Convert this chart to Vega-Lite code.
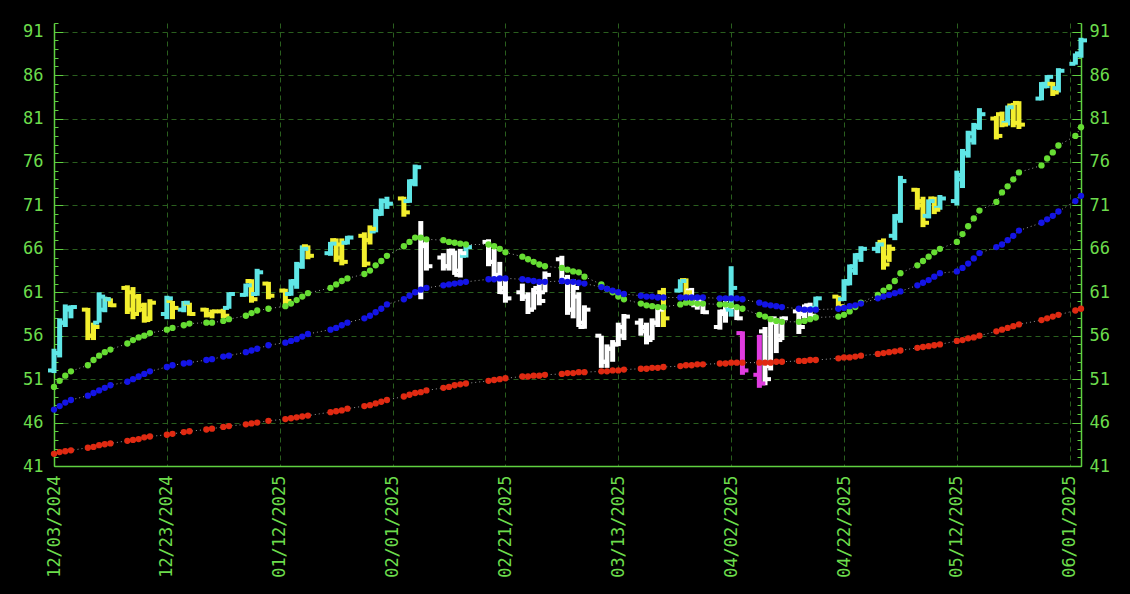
{
  "$schema": "https://vega.github.io/schema/vega-lite/v6.json",
  "width": 1027,
  "height": 443,
  "autosize": "none",
  "padding": {"left": 54, "top": 23, "right": 49, "bottom": 128},
  "background": "#000000",
  "config": {
    "view": {"stroke": null},
    "axis": {
      "labelFont": "DejaVu Sans Mono",
      "labelFontSize": 17,
      "labelColor": "#6cdc4c",
      "domainColor": "#5fd040",
      "domainWidth": 1.5,
      "tickColor": "#5fd040",
      "gridColor": "#2a5e1e",
      "gridDash": [5, 4],
      "gridWidth": 1,
      "title": null
    }
  },
  "data": {"values": [
    {"d":"2024-12-03","o":52,"h":54.5,"l":51.7,"c":54,"k":"up","g":50.1,"b":47.5,"r":42.4},
    {"d":"2024-12-04","o":54,"h":58,"l":53.5,"c":57.5,"k":"up","g":50.8,"b":47.9,"r":42.6},
    {"d":"2024-12-05","o":57.5,"h":59.6,"l":57,"c":59.2,"k":"up","g":51.4,"b":48.3,"r":42.7},
    {"d":"2024-12-06","o":59,"h":59.5,"l":58,"c":59.3,"k":"up","g":51.9,"b":48.6,"r":42.8},
    {"d":"2024-12-09","o":59,"h":59.2,"l":55.5,"c":56,"k":"pullback","g":52.6,"b":49.1,"r":43.1},
    {"d":"2024-12-10","o":56,"h":57.5,"l":55.5,"c":57,"k":"pullback","g":53.2,"b":49.4,"r":43.2},
    {"d":"2024-12-11","o":57.5,"h":61,"l":57.5,"c":60.5,"k":"up","g":53.7,"b":49.7,"r":43.4},
    {"d":"2024-12-12","o":59,"h":60.5,"l":58.7,"c":60.2,"k":"up","g":54.1,"b":50.0,"r":43.5},
    {"d":"2024-12-13","o":60.2,"h":60.3,"l":59.3,"c":59.5,"k":"pullback","g":54.4,"b":50.3,"r":43.6},
    {"d":"2024-12-16","o":61.5,"h":61.8,"l":58.5,"c":59,"k":"pullback","g":55.1,"b":50.7,"r":43.9},
    {"d":"2024-12-17","o":61,"h":61.6,"l":57.9,"c":58.5,"k":"pullback","g":55.5,"b":51.0,"r":44.0},
    {"d":"2024-12-18","o":60.5,"h":60.8,"l":58.7,"c":59,"k":"pullback","g":55.8,"b":51.3,"r":44.1},
    {"d":"2024-12-19","o":59.5,"h":59.8,"l":57.5,"c":57.8,"k":"pullback","g":56.0,"b":51.6,"r":44.3},
    {"d":"2024-12-20","o":58,"h":60.2,"l":57.7,"c":59.8,"k":"pullback","g":56.3,"b":51.9,"r":44.4},
    {"d":"2024-12-23","o":58.5,"h":60.6,"l":57.9,"c":60.3,"k":"up","g":56.7,"b":52.4,"r":44.6},
    {"d":"2024-12-24","o":60,"h":60,"l":57.9,"c":59.2,"k":"pullback","g":56.9,"b":52.6,"r":44.7},
    {"d":"2024-12-26","o":59,"h":60,"l":58.7,"c":59.8,"k":"up","g":57.2,"b":52.8,"r":44.9},
    {"d":"2024-12-27","o":59.7,"h":59.8,"l":58.3,"c":58.5,"k":"pullback","g":57.4,"b":52.9,"r":45.0},
    {"d":"2024-12-30","o":59,"h":59.2,"l":58.1,"c":58.4,"k":"pullback","g":57.5,"b":53.2,"r":45.2},
    {"d":"2024-12-31","o":58.5,"h":59,"l":58,"c":58.8,"k":"pullback","g":57.5,"b":53.3,"r":45.3},
    {"d":"2025-01-02","o":58.8,"h":59.1,"l":58,"c":58.3,"k":"pullback","g":57.7,"b":53.6,"r":45.5},
    {"d":"2025-01-03","o":59.2,"h":61,"l":59.1,"c":60.8,"k":"up","g":57.9,"b":53.7,"r":45.6},
    {"d":"2025-01-06","o":60.7,"h":62,"l":60.5,"c":61.8,"k":"up","g":58.3,"b":54.1,"r":45.8},
    {"d":"2025-01-07","o":62.3,"h":62.5,"l":59.8,"c":60.2,"k":"pullback","g":58.6,"b":54.3,"r":45.9},
    {"d":"2025-01-08","o":60.8,"h":63.7,"l":60.6,"c":63.3,"k":"up","g":58.9,"b":54.5,"r":46.0},
    {"d":"2025-01-10","o":62,"h":62.2,"l":60.2,"c":60.6,"k":"pullback","g":59.1,"b":54.9,"r":46.2},
    {"d":"2025-01-13","o":61.2,"h":61.4,"l":59.5,"c":60,"k":"pullback","g":59.4,"b":55.2,"r":46.4},
    {"d":"2025-01-14","o":60.8,"h":62.5,"l":60.6,"c":62.3,"k":"up","g":59.7,"b":55.4,"r":46.5},
    {"d":"2025-01-15","o":62,"h":64.5,"l":61.4,"c":64.2,"k":"up","g":60.1,"b":55.6,"r":46.6},
    {"d":"2025-01-16","o":64,"h":66.4,"l":63.7,"c":66,"k":"up","g":60.5,"b":55.9,"r":46.7},
    {"d":"2025-01-17","o":66.3,"h":66.4,"l":64.8,"c":65.2,"k":"pullback","g":60.9,"b":56.2,"r":46.8},
    {"d":"2025-01-21","o":65.5,"h":66.8,"l":65.2,"c":66.6,"k":"up","g":61.5,"b":56.7,"r":47.2},
    {"d":"2025-01-22","o":67,"h":67.2,"l":64.5,"c":65,"k":"pullback","g":61.9,"b":56.9,"r":47.3},
    {"d":"2025-01-23","o":66.5,"h":67.2,"l":64.1,"c":64.5,"k":"pullback","g":62.3,"b":57.2,"r":47.4},
    {"d":"2025-01-24","o":66.7,"h":67.5,"l":66.5,"c":67.3,"k":"up","g":62.6,"b":57.5,"r":47.6},
    {"d":"2025-01-27","o":67.5,"h":67.9,"l":63.9,"c":64.3,"k":"pullback","g":63.1,"b":58.0,"r":47.9},
    {"d":"2025-01-28","o":67,"h":68.7,"l":66.5,"c":68.3,"k":"pullback","g":63.5,"b":58.3,"r":48.0},
    {"d":"2025-01-29","o":68,"h":70.6,"l":67.9,"c":70.3,"k":"up","g":64.1,"b":58.7,"r":48.2},
    {"d":"2025-01-30","o":70,"h":71.8,"l":69.8,"c":71.5,"k":"up","g":64.6,"b":59.1,"r":48.4},
    {"d":"2025-01-31","o":71.5,"h":72,"l":70.6,"c":71.2,"k":"up","g":65.2,"b":59.6,"r":48.6},
    {"d":"2025-02-03","o":71.8,"h":72,"l":69.7,"c":70.2,"k":"pullback","g":66.3,"b":60.2,"r":49.0},
    {"d":"2025-02-04","o":71.5,"h":74,"l":71.3,"c":73.8,"k":"up","g":66.8,"b":60.6,"r":49.2},
    {"d":"2025-02-05","o":73.5,"h":75.7,"l":73.2,"c":75.4,"k":"up","g":67.3,"b":61.0,"r":49.4},
    {"d":"2025-02-06","o":61,"h":69.2,"l":60.2,"c":66.3,"k":"neutral","g":67.3,"b":61.3,"r":49.5},
    {"d":"2025-02-07","o":66.5,"h":67,"l":63.5,"c":64,"k":"neutral","g":67.1,"b":61.5,"r":49.7},
    {"d":"2025-02-10","o":65,"h":65.5,"l":63.5,"c":64,"k":"neutral","g":67.0,"b":61.8,"r":50.0},
    {"d":"2025-02-11","o":64,"h":66,"l":63.5,"c":65.8,"k":"neutral","g":66.8,"b":61.9,"r":50.1},
    {"d":"2025-02-12","o":65.5,"h":65.8,"l":63,"c":63.5,"k":"neutral","g":66.7,"b":62.0,"r":50.3},
    {"d":"2025-02-13","o":63,"h":66,"l":62.7,"c":65.5,"k":"neutral","g":66.6,"b":62.1,"r":50.4},
    {"d":"2025-02-14","o":65.2,"h":66.4,"l":65,"c":66.2,"k":"up","g":66.5,"b":62.2,"r":50.5},
    {"d":"2025-02-18","o":66.8,"h":67.1,"l":64,"c":64.5,"k":"neutral","g":66.5,"b":62.5,"r":50.8},
    {"d":"2025-02-19","o":64.5,"h":66,"l":62.7,"c":63,"k":"neutral","g":66.3,"b":62.5,"r":50.9},
    {"d":"2025-02-20","o":63,"h":64.5,"l":60.8,"c":61,"k":"neutral","g":66.0,"b":62.6,"r":51.0},
    {"d":"2025-02-21","o":61.5,"h":62.5,"l":59.8,"c":60.3,"k":"neutral","g":65.6,"b":62.6,"r":51.1},
    {"d":"2025-02-24","o":61,"h":62,"l":60,"c":60.5,"k":"neutral","g":65.1,"b":62.5,"r":51.3},
    {"d":"2025-02-25","o":60.5,"h":61,"l":58.5,"c":59,"k":"neutral","g":64.8,"b":62.4,"r":51.3},
    {"d":"2025-02-26","o":59,"h":61.5,"l":59,"c":61,"k":"neutral","g":64.5,"b":62.3,"r":51.4},
    {"d":"2025-02-27","o":61.5,"h":62,"l":59.5,"c":60,"k":"neutral","g":64.2,"b":62.2,"r":51.4},
    {"d":"2025-02-28","o":61,"h":63.4,"l":61,"c":63,"k":"neutral","g":64.0,"b":62.2,"r":51.5},
    {"d":"2025-03-03","o":64.8,"h":65.2,"l":62,"c":62.5,"k":"neutral","g":63.8,"b":62.3,"r":51.6},
    {"d":"2025-03-04","o":62.5,"h":63,"l":58.4,"c":59,"k":"neutral","g":63.6,"b":62.2,"r":51.7},
    {"d":"2025-03-05","o":59,"h":62.5,"l":58,"c":61.5,"k":"neutral","g":63.4,"b":62.2,"r":51.7},
    {"d":"2025-03-06","o":60.5,"h":61,"l":57,"c":57.5,"k":"neutral","g":63.3,"b":62.1,"r":51.8},
    {"d":"2025-03-07","o":57,"h":59.5,"l":56.8,"c":59,"k":"neutral","g":62.8,"b":62.0,"r":51.8},
    {"d":"2025-03-10","o":56,"h":56,"l":52.3,"c":53,"k":"neutral","g":61.9,"b":61.6,"r":51.9},
    {"d":"2025-03-11","o":53,"h":55,"l":52.3,"c":54.5,"k":"neutral","g":61.4,"b":61.4,"r":51.9},
    {"d":"2025-03-12","o":54.5,"h":55.5,"l":53,"c":55,"k":"neutral","g":61.0,"b":61.2,"r":52.0},
    {"d":"2025-03-13","o":55,"h":57.5,"l":54.8,"c":57,"k":"neutral","g":60.5,"b":61.0,"r":52.0},
    {"d":"2025-03-14","o":56,"h":58.5,"l":55.5,"c":58.2,"k":"neutral","g":60.2,"b":60.8,"r":52.1},
    {"d":"2025-03-17","o":57.5,"h":58,"l":56,"c":56.5,"k":"neutral","g":59.7,"b":60.6,"r":52.2},
    {"d":"2025-03-18","o":57,"h":57.5,"l":55,"c":55.5,"k":"neutral","g":59.5,"b":60.5,"r":52.2},
    {"d":"2025-03-19","o":55.8,"h":58,"l":55.5,"c":57.5,"k":"neutral","g":59.4,"b":60.5,"r":52.3},
    {"d":"2025-03-20","o":57.5,"h":59.5,"l":57,"c":59,"k":"neutral","g":59.3,"b":60.4,"r":52.3},
    {"d":"2025-03-21","o":61,"h":61.5,"l":57,"c":58,"k":"pullback","g":59.3,"b":60.4,"r":52.4},
    {"d":"2025-03-24","o":61.2,"h":62.5,"l":61,"c":62.3,"k":"up","g":59.6,"b":60.4,"r":52.5},
    {"d":"2025-03-25","o":62.4,"h":62.6,"l":60.5,"c":61,"k":"pullback","g":59.8,"b":60.4,"r":52.6},
    {"d":"2025-03-26","o":61.2,"h":61.5,"l":59.5,"c":59.8,"k":"neutral","g":59.8,"b":60.4,"r":52.6},
    {"d":"2025-03-27","o":59.5,"h":60.5,"l":59,"c":60,"k":"neutral","g":59.7,"b":60.4,"r":52.7},
    {"d":"2025-03-28","o":59.7,"h":59.8,"l":58.5,"c":58.7,"k":"neutral","g":59.7,"b":60.4,"r":52.7},
    {"d":"2025-03-31","o":57,"h":59,"l":56.7,"c":58.8,"k":"neutral","g":59.6,"b":60.3,"r":52.8},
    {"d":"2025-04-01","o":58.5,"h":60,"l":57.5,"c":59.5,"k":"neutral","g":59.6,"b":60.3,"r":52.8},
    {"d":"2025-04-02","o":59,"h":64,"l":58.2,"c":61.5,"k":"up","g":59.5,"b":60.3,"r":52.9},
    {"d":"2025-04-03","o":59.3,"h":59.5,"l":57.8,"c":58,"k":"neutral","g":59.3,"b":60.3,"r":52.9},
    {"d":"2025-04-04","o":56.3,"h":56.5,"l":51.5,"c":52,"k":"weak","g":59.1,"b":60.2,"r":52.9},
    {"d":"2025-04-07","o":51.5,"h":56.1,"l":50,"c":50.5,"k":"weak","g":58.4,"b":59.8,"r":52.9},
    {"d":"2025-04-08","o":56.5,"h":57,"l":50.3,"c":51,"k":"neutral","g":58.2,"b":59.6,"r":52.9},
    {"d":"2025-04-09","o":52.5,"h":58.2,"l":52,"c":58,"k":"neutral","g":57.9,"b":59.5,"r":52.9},
    {"d":"2025-04-10","o":57.5,"h":58,"l":54,"c":55.5,"k":"neutral","g":57.7,"b":59.4,"r":53.0},
    {"d":"2025-04-11","o":56,"h":58.2,"l":55.5,"c":58,"k":"neutral","g":57.6,"b":59.3,"r":53.0},
    {"d":"2025-04-14","o":58.8,"h":59.2,"l":56.2,"c":57,"k":"neutral","g":57.6,"b":59.1,"r":53.1},
    {"d":"2025-04-15","o":58.5,"h":59.6,"l":58,"c":59,"k":"neutral","g":57.7,"b":59.0,"r":53.1},
    {"d":"2025-04-16","o":59.5,"h":59.8,"l":58,"c":58.3,"k":"neutral","g":57.9,"b":59.0,"r":53.2},
    {"d":"2025-04-17","o":59.2,"h":60.5,"l":59,"c":60.3,"k":"up","g":58.1,"b":59.0,"r":53.2},
    {"d":"2025-04-21","o":60.5,"h":60.6,"l":59.1,"c":59.4,"k":"pullback","g":58.2,"b":59.1,"r":53.4},
    {"d":"2025-04-22","o":60.2,"h":62.5,"l":60,"c":62.3,"k":"up","g":58.4,"b":59.2,"r":53.5},
    {"d":"2025-04-23","o":62,"h":64.2,"l":61.8,"c":64,"k":"up","g":58.8,"b":59.4,"r":53.5},
    {"d":"2025-04-24","o":63.5,"h":65.5,"l":63,"c":65.3,"k":"up","g":59.3,"b":59.5,"r":53.6},
    {"d":"2025-04-25","o":65,"h":66.3,"l":64.5,"c":66,"k":"up","g":59.8,"b":59.7,"r":53.7},
    {"d":"2025-04-28","o":66,"h":66.8,"l":65.5,"c":66.5,"k":"up","g":60.7,"b":60.3,"r":53.9},
    {"d":"2025-04-29","o":66.8,"h":67.2,"l":63.6,"c":64.2,"k":"pullback","g":61.2,"b":60.5,"r":54.0},
    {"d":"2025-04-30","o":65,"h":66.5,"l":64.5,"c":66,"k":"pullback","g":61.6,"b":60.7,"r":54.1},
    {"d":"2025-05-01","o":67.5,"h":70,"l":67,"c":69.8,"k":"up","g":62.3,"b":60.9,"r":54.2},
    {"d":"2025-05-02","o":69.5,"h":74.4,"l":69,"c":73.8,"k":"up","g":63.2,"b":61.1,"r":54.3},
    {"d":"2025-05-05","o":72.8,"h":73,"l":70.5,"c":71,"k":"pullback","g":64.1,"b":61.8,"r":54.6},
    {"d":"2025-05-06","o":71.5,"h":72,"l":68.5,"c":69,"k":"pullback","g":64.6,"b":62.1,"r":54.7},
    {"d":"2025-05-07","o":69.8,"h":71.7,"l":69.5,"c":71.5,"k":"up","g":65.1,"b":62.4,"r":54.8},
    {"d":"2025-05-08","o":71.8,"h":72,"l":70,"c":70.5,"k":"pullback","g":65.6,"b":62.8,"r":54.9},
    {"d":"2025-05-09","o":70.7,"h":72.2,"l":70.5,"c":71.8,"k":"up","g":66.0,"b":63.2,"r":55.0},
    {"d":"2025-05-12","o":71.5,"h":75,"l":71,"c":74.5,"k":"up","g":66.8,"b":63.4,"r":55.4},
    {"d":"2025-05-13","o":74,"h":77.5,"l":73,"c":77,"k":"up","g":67.7,"b":63.8,"r":55.5},
    {"d":"2025-05-14","o":77,"h":79.6,"l":76.5,"c":79.3,"k":"up","g":68.6,"b":64.3,"r":55.7},
    {"d":"2025-05-15","o":78.5,"h":80.5,"l":78,"c":80.2,"k":"up","g":69.5,"b":64.9,"r":55.8},
    {"d":"2025-05-16","o":80,"h":82.2,"l":79.7,"c":81.5,"k":"up","g":70.4,"b":65.5,"r":56.0},
    {"d":"2025-05-19","o":81,"h":81.3,"l":78.6,"c":79,"k":"pullback","g":71.4,"b":66.2,"r":56.5},
    {"d":"2025-05-20","o":81.5,"h":81.8,"l":80,"c":80.3,"k":"pullback","g":72.5,"b":66.5,"r":56.7},
    {"d":"2025-05-21","o":80.5,"h":82.5,"l":80.2,"c":82.3,"k":"up","g":73.2,"b":67.0,"r":56.9},
    {"d":"2025-05-22","o":82.5,"h":82.8,"l":80,"c":80.5,"k":"pullback","g":74.0,"b":67.5,"r":57.1},
    {"d":"2025-05-23","o":82.8,"h":83,"l":79.8,"c":80.3,"k":"pullback","g":74.8,"b":68.1,"r":57.3},
    {"d":"2025-05-27","o":83.3,"h":85.2,"l":83.1,"c":85,"k":"up","g":75.6,"b":69.0,"r":57.8},
    {"d":"2025-05-28","o":84.7,"h":86,"l":84.5,"c":85.8,"k":"up","g":76.4,"b":69.4,"r":58.0},
    {"d":"2025-05-29","o":85,"h":85.2,"l":83.6,"c":84,"k":"pullback","g":77.1,"b":69.8,"r":58.2},
    {"d":"2025-05-30","o":84.5,"h":86.8,"l":84,"c":86.5,"k":"up","g":77.9,"b":70.3,"r":58.4},
    {"d":"2025-06-02","o":87.3,"h":88.5,"l":87.2,"c":88.3,"k":"up","g":79.0,"b":71.5,"r":58.9},
    {"d":"2025-06-03","o":88.5,"h":90.3,"l":88,"c":90,"k":"up","g":80.0,"b":72.1,"r":59.1}
  ]},
  "encoding": {
    "x": {
      "field": "d",
      "type": "temporal",
      "scale": {"type": "utc", "domain": [{"year": 2024, "month": 12, "date": 3, "utc": true}, {"year": 2025, "month": 6, "date": 3, "utc": true}]},
      "axis": {
        "values": [
          {"year": 2024, "month": 12, "date": 3, "utc": true},
          {"year": 2024, "month": 12, "date": 23, "utc": true},
          {"year": 2025, "month": 1, "date": 12, "utc": true},
          {"year": 2025, "month": 2, "date": 1, "utc": true},
          {"year": 2025, "month": 2, "date": 21, "utc": true},
          {"year": 2025, "month": 3, "date": 13, "utc": true},
          {"year": 2025, "month": 4, "date": 2, "utc": true},
          {"year": 2025, "month": 4, "date": 22, "utc": true},
          {"year": 2025, "month": 5, "date": 12, "utc": true},
          {"year": 2025, "month": 6, "date": 1, "utc": true}
        ],
        "format": "%m/%d/%Y",
        "labelAngle": -90,
        "labelPadding": 9,
        "ticks": false,
        "tickSize": 0,
        "grid": true,
        "domain": true,
        "labelFlush": false,
        "labelOverlap": false
      }
    }
  },
  "layer": [
    {
      "mark": {"type": "rule", "strokeWidth": 5},
      "encoding": {
        "y": {"field": "l", "type": "quantitative", "scale": {"domain": [41, 92], "nice": false, "zero": false},
          "axis": {"orient": "left", "values": [41,46,51,56,61,66,71,76,81,86,91], "grid": true, "ticks": false, "tickSize": 0, "labelPadding": 11, "domain": true}},
        "y2": {"field": "h"},
        "color": {"field": "k", "type": "nominal", "legend": null,
          "scale": {"domain": ["up", "pullback", "neutral", "weak"], "range": ["#5fe6e6", "#f3ef2e", "#ffffff", "#e03ce0"]}}
      }
    },
    {
      "mark": {"type": "rule", "strokeWidth": 4, "xOffset": -6, "x2Offset": 0},
      "encoding": {
        "x2": {"field": "d"},
        "y": {"field": "o", "type": "quantitative", "scale": {"domain": [41, 92], "nice": false, "zero": false},
          "axis": {"orient": "left", "values": [41,46,51,56,61,66,71,76,81,86,91], "grid": false, "labels": false, "domain": false, "offset": -9, "tickSize": 9}},
        "color": {"field": "k", "type": "nominal", "legend": null}
      }
    },
    {
      "mark": {"type": "rule", "strokeWidth": 4, "xOffset": 0, "x2Offset": 6},
      "encoding": {
        "x2": {"field": "d"},
        "y": {"field": "c", "type": "quantitative", "scale": {"domain": [41, 92], "nice": false, "zero": false},
          "axis": {"orient": "left", "values": [41,42,43,44,45,46,47,48,49,50,51,52,53,54,55,56,57,58,59,60,61,62,63,64,65,66,67,68,69,70,71,72,73,74,75,76,77,78,79,80,81,82,83,84,85,86,87,88,89,90,91,92], "grid": false, "labels": false, "domain": false, "offset": -4, "tickSize": 4}},
        "color": {"field": "k", "type": "nominal", "legend": null}
      }
    },
    {
      "mark": {"type": "line", "color": "#9a9a9a", "strokeWidth": 1, "strokeDash": [1, 3]},
      "encoding": {
        "y": {"field": "g", "type": "quantitative", "scale": {"domain": [41, 92], "nice": false, "zero": false},
          "axis": {"orient": "right", "values": [41,46,51,56,61,66,71,76,81,86,91], "grid": false, "ticks": false, "tickSize": 0, "labelPadding": 8, "domain": true}}
      }
    },
    {
      "mark": {"type": "line", "color": "#9a9a9a", "strokeWidth": 1, "strokeDash": [1, 3]},
      "encoding": {
        "y": {"field": "b", "type": "quantitative", "scale": {"domain": [41, 92], "nice": false, "zero": false},
          "axis": {"orient": "right", "values": [41,46,51,56,61,66,71,76,81,86,91], "grid": false, "labels": false, "domain": false, "offset": -9, "tickSize": 9}}
      }
    },
    {
      "mark": {"type": "line", "color": "#9a9a9a", "strokeWidth": 1, "strokeDash": [1, 3]},
      "encoding": {
        "y": {"field": "r", "type": "quantitative", "scale": {"domain": [41, 92], "nice": false, "zero": false},
          "axis": {"orient": "right", "values": [41,42,43,44,45,46,47,48,49,50,51,52,53,54,55,56,57,58,59,60,61,62,63,64,65,66,67,68,69,70,71,72,73,74,75,76,77,78,79,80,81,82,83,84,85,86,87,88,89,90,91,92], "grid": false, "labels": false, "domain": false, "offset": -4, "tickSize": 4}}
      }
    },
    {
      "mark": {"type": "point", "filled": true, "size": 40, "opacity": 1, "color": "#66dd33"},
      "encoding": {
        "y": {"field": "g", "type": "quantitative", "scale": {"domain": [41, 92], "nice": false, "zero": false}, "axis": null}
      }
    },
    {
      "mark": {"type": "point", "filled": true, "size": 40, "opacity": 1, "color": "#1414e6"},
      "encoding": {
        "y": {"field": "b", "type": "quantitative", "scale": {"domain": [41, 92], "nice": false, "zero": false}, "axis": null}
      }
    },
    {
      "mark": {"type": "point", "filled": true, "size": 40, "opacity": 1, "color": "#e02a12"},
      "encoding": {
        "y": {"field": "r", "type": "quantitative", "scale": {"domain": [41, 92], "nice": false, "zero": false}, "axis": null}
      }
    }
  ],
  "resolve": {"axis": {"y": "independent"}}
}
